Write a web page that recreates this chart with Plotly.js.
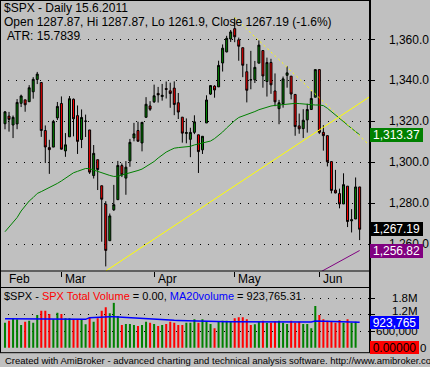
<!DOCTYPE html>
<html><head><meta charset="utf-8">
<script src="https://cdn.plot.ly/plotly-3.0.1.min.js"></script>
<style>html,body{margin:0;padding:0;background:#C0C0C0;}#chart{width:430px;height:367px;}</style>
</head><body><div id="chart"></div>
<script>
const dates = ['2011-02-08','2011-02-09','2011-02-10','2011-02-11','2011-02-14','2011-02-15','2011-02-16','2011-02-17','2011-02-18','2011-02-22','2011-02-23','2011-02-24','2011-02-25','2011-02-28',
'2011-03-01','2011-03-02','2011-03-03','2011-03-04','2011-03-07','2011-03-08','2011-03-09','2011-03-10','2011-03-11','2011-03-14','2011-03-15','2011-03-16','2011-03-17','2011-03-18','2011-03-21','2011-03-22','2011-03-23','2011-03-24','2011-03-25','2011-03-28','2011-03-29','2011-03-30','2011-03-31',
'2011-04-01','2011-04-04','2011-04-05','2011-04-06','2011-04-07','2011-04-08','2011-04-11','2011-04-12','2011-04-13','2011-04-14','2011-04-15','2011-04-18','2011-04-19','2011-04-20','2011-04-21','2011-04-25','2011-04-26','2011-04-27','2011-04-28','2011-04-29',
'2011-05-02','2011-05-03','2011-05-04','2011-05-05','2011-05-06','2011-05-09','2011-05-10','2011-05-11','2011-05-12','2011-05-13','2011-05-16','2011-05-17','2011-05-18','2011-05-19','2011-05-20','2011-05-23','2011-05-24','2011-05-25','2011-05-26','2011-05-27','2011-05-31',
'2011-06-01','2011-06-02','2011-06-03','2011-06-06','2011-06-07','2011-06-08','2011-06-09','2011-06-10','2011-06-13','2011-06-14','2011-06-15'];
const openP = [1318.76,1322.48,1318.13,1318.66,1328.73,1330.43,1329.51,1334.37,1340.38,1338.91,1315.44,1307.09,1307.34,1321.61,
1328.64,1305.47,1312.37,1330.73,1322.72,1311.05,1319.92,1315.72,1293.43,1301.19,1288.46,1279.46,1261.61,1276.71,1281.65,1298.29,1292.19,1300.61,1311.80,1315.45,1309.37,1321.89,1327.44,
1329.48,1333.56,1332.03,1335.94,1334.82,1336.16,1329.01,1321.96,1314.03,1311.13,1314.54,1313.35,1305.99,1319.12,1333.23,1337.14,1336.75,1348.43,1353.86,1360.14,
1365.21,1359.76,1355.90,1344.16,1340.24,1340.20,1348.34,1354.51,1339.39,1348.69,1334.77,1326.10,1328.54,1342.40,1342.00,1333.07,1317.70,1316.36,1320.64,1325.69,1331.72,
1345.20,1314.55,1312.94,1300.26,1286.31,1284.63,1279.56,1288.26,1271.31,1272.22,1287.87];
const highP = [1324.87,1324.54,1322.78,1330.79,1332.96,1330.43,1337.61,1341.50,1344.07,1338.91,1317.91,1310.91,1320.61,1329.38,
1332.09,1314.19,1332.28,1331.08,1327.68,1325.74,1323.21,1315.72,1308.35,1301.19,1288.46,1280.91,1274.90,1288.88,1300.58,1299.35,1300.51,1311.34,1319.18,1319.74,1319.45,1331.74,1329.77,
1337.85,1336.74,1338.21,1339.38,1338.80,1339.46,1333.77,1321.96,1321.35,1316.79,1322.88,1313.35,1312.70,1332.66,1337.49,1337.55,1349.55,1357.49,1361.71,1364.56,
1370.58,1360.84,1355.90,1348.00,1354.36,1349.44,1359.44,1354.51,1351.05,1350.47,1343.33,1330.42,1341.82,1346.82,1342.00,1333.07,1323.72,1325.86,1328.51,1334.62,1345.20,
1345.20,1318.03,1312.94,1300.26,1296.22,1287.04,1294.54,1288.26,1277.04,1292.50,1287.87];
const lowP = [1316.03,1314.89,1311.74,1316.08,1326.90,1324.61,1329.51,1331.00,1338.12,1312.33,1299.55,1294.26,1307.34,1320.55,
1306.14,1302.58,1312.37,1312.59,1303.99,1306.86,1312.27,1294.21,1291.99,1286.37,1261.12,1249.05,1261.61,1276.18,1281.65,1292.70,1284.05,1297.74,1310.15,1310.19,1305.26,1321.89,1325.03,
1328.89,1329.10,1330.03,1331.09,1326.56,1322.94,1321.06,1309.51,1309.19,1302.42,1313.68,1294.70,1303.97,1319.12,1332.82,1331.47,1336.75,1344.25,1353.60,1358.69,
1358.59,1349.52,1341.50,1329.17,1335.58,1338.64,1348.34,1336.36,1332.03,1333.36,1327.32,1318.51,1326.59,1336.36,1330.67,1312.88,1313.87,1311.80,1314.41,1325.69,1331.72,
1313.71,1305.61,1297.90,1284.72,1284.74,1277.42,1279.56,1268.28,1265.64,1272.22,1261.90];
const closeP = [1324.57,1320.88,1321.87,1329.15,1332.32,1328.01,1336.32,1340.43,1343.01,1315.44,1307.40,1306.10,1319.88,1327.22,
1306.33,1308.44,1330.97,1321.15,1310.13,1321.82,1320.02,1295.11,1304.28,1296.39,1281.87,1256.88,1273.72,1279.21,1298.38,1293.77,1297.54,1309.66,1313.80,1310.19,1319.44,1328.26,1325.83,
1332.41,1332.87,1332.63,1335.54,1333.51,1328.17,1324.46,1314.16,1314.41,1314.52,1319.68,1305.14,1312.62,1330.36,1337.38,1335.25,1347.24,1355.66,1360.48,1363.61,
1361.22,1356.62,1347.32,1335.10,1340.20,1346.29,1357.16,1342.08,1348.65,1337.77,1329.47,1328.98,1340.68,1343.60,1333.27,1317.37,1316.28,1320.47,1325.69,1331.10,1345.20,
1314.55,1312.94,1300.16,1286.17,1284.94,1279.56,1289.00,1270.98,1271.83,1287.87,1267.19];
const ma20 = [1266.0,1268.3,1270.5,1272.9,1276.1,1278.6,1281.0,1282.7,1284.7,1285.6,
1286.6,1287.6,1288.3,1289.6,1290.8,1292.0,1293.5,1294.8,1295.5,1296.1,
1296.9,1296.8,1296.1,1295.7,1294.9,1294.0,1293.5,1293.0,1293.1,1293.7,
1294.2,1294.7,1295.2,1295.9,1296.6,1297.9,1298.8,1300.3,1302.0,1303.5,
1304.9,1305.9,1306.8,1307.1,1307.3,1307.5,1307.7,1308.4,1308.9,1309.3,
1309.8,1310.3,1311.5,1313.0,1314.7,1316.7,1318.6,1320.3,1321.8,1322.5,
1323.2,1323.8,1324.7,1325.6,1326.3,1326.9,1327.4,1327.7,1327.9,1328.2,
1328.6,1328.7,1328.7,1328.6,1328.4,1328.0,1327.9,1327.9,1327.9,1327.6,
1326.3,1324.6,1323.0,1321.4,1319.8,1318.1,1316.5,1314.9,1313.37];
const volume = [912000,985000,1070000,1033000,827000,948000,985000,912000,1191000,1349000,1349000,1228000,1033000,1276000,
1228000,1070000,1070000,1033000,1033000,1033000,851000,1106000,948000,1070000,1349000,1471000,1252000,1640000,1155000,827000,863000,863000,827000,791000,827000,948000,912000,
863000,791000,827000,863000,948000,912000,827000,827000,912000,912000,1033000,912000,1033000,973000,863000,706000,948000,985000,985000,948000,
1070000,1106000,1106000,1033000,827000,851000,948000,985000,912000,912000,950000,985000,912000,863000,985000,912000,948000,863000,863000,706000,1519000,
1191000,1033000,985000,948000,912000,1009000,912000,1033000,912000,948000,0];
const volMA20 = [1058000,1058000,1058000,1058000,1058000,1058000,1058000,
1033000,1033000,1033000,1033000,1033000,1033000,1033000,1033000,1033000,1033000,1033000,1033000,1033000,1033000,
1094000,1106000,1106000,1115000,1125000,1130000,1130000,1120000,1106000,1094000,1085000,1075000,1065000,1058000,1050000,1040000,1033000,1033000,1025000,1017000,1009000,1000000,995000,990000,985000,978000,970000,963000,955000,948000,948000,
948000,948000,948000,948000,948000,948000,948000,948000,
936000,936000,936000,936000,936000,936000,936000,936000,936000,936000,936000,936000,936000,936000,936000,936000,936000,
973000,968000,965000,963000,960000,958000,955000,953000,950000,948000,945000,923765];
const priceTicks = [1260,1280,1300,1320,1340,1360];
const volTicks = [0,600000,1200000,1800000];
const volTickLabels = ['0','600,000','1.2M','1.8M'];
const monthNames = ['Jan','Feb','Mar','Apr','May','Jun','Jul','Aug','Sep','Oct','Nov','Dec'];
// trend lines (bar index, price)
const trendUpX = [25, 90.45];
const trendUpY = [1246.8, 1331.9];
const trendDownX = [57, 90.45];
const trendDownY = [1370.58, 1308.2];
const purpleX = [75, 88];
const purpleY = [1242.8, 1256.82];
const lastClose = 1267.19, lastMA = 1313.37, lastPurple = 1256.82, lastVolMA = 923765, lastVol = 0;

const W = 430, H = 367;
const FONT = 'Liberation Sans, Arial, sans-serif';
const px = v => v / W, py = v => 1 - v / H;
const idx = dates.map((d, i) => i);
const plotRight = 369.5, mainBottom = 271, volTop = 287.5, volBottom = 352.7;
const GREEN = '#008000', RED = '#FF0000';

// month starts
const monthIdx = [], monthLab = [];
dates.forEach((d, i) => {
  const m = +d.slice(5, 7);
  if (i === 0 || m !== +dates[i - 1].slice(5, 7)) { monthIdx.push(i); monthLab.push(monthNames[m - 1]); }
});

const traces = [
  {type: 'candlestick', x: idx, open: openP, high: highP, low: lowP, close: closeP, xaxis: 'x', yaxis: 'y',
   increasing: {fillcolor: GREEN, line: {color: '#000', width: 1}},
   decreasing: {fillcolor: RED, line: {color: '#000', width: 1}},
   whiskerwidth: 0, hoverinfo: 'skip', showlegend: false},
  {type: 'scatter', mode: 'lines', x: idx, y: ma20, line: {color: GREEN, width: 1}, xaxis: 'x', yaxis: 'y', hoverinfo: 'skip'},
  {type: 'scatter', mode: 'lines', x: trendUpX, y: trendUpY, line: {color: '#FFFF00', width: 1}, xaxis: 'x', yaxis: 'y', hoverinfo: 'skip'},
  {type: 'scatter', mode: 'lines', x: trendDownX, y: trendDownY, line: {color: '#FFFF00', width: 1, dash: '2px,3px'}, xaxis: 'x', yaxis: 'y', hoverinfo: 'skip'},
  {type: 'scatter', mode: 'lines', x: purpleX, y: purpleY, line: {color: '#800080', width: 1}, xaxis: 'x', yaxis: 'y', hoverinfo: 'skip'},
  {type: 'bar', x: idx, y: volume, width: 0.5, xaxis: 'x2', yaxis: 'y2',
   marker: {color: closeP.map((c, i) => c >= openP[i] ? GREEN : RED), line: {width: 0}}, hoverinfo: 'skip'},
  {type: 'scatter', mode: 'lines', x: idx, y: volMA20, line: {color: '#0000FF', width: 1.5}, xaxis: 'x2', yaxis: 'y2', hoverinfo: 'skip'}
];

const xr = [-5 / 4.03, (plotRight - 5) / 4.03];
const gridStyle = {showgrid: true, gridcolor: '#000', griddash: '1px,7px', gridwidth: 1};

const layout = {
  width: W, height: H, margin: {l: 0, r: 0, t: 0, b: 0},
  paper_bgcolor: '#C0C0C0', plot_bgcolor: '#C0C0C0',
  showlegend: false, hovermode: false, boxgap: 0.3,
  font: {family: FONT, size: 12, color: '#000'},
  xaxis: {domain: [0, px(plotRight)], range: xr, anchor: 'y', rangeslider: {visible: false},
          showgrid: false, zeroline: false, showline: false, ticks: 'outside', ticklen: 5, tickwidth: 1, tickcolor: '#000',
          tickvals: monthIdx.slice(1), showticklabels: false},
  xaxis2: {domain: [0, px(plotRight)], matches: 'x', anchor: 'y2', showgrid: false, zeroline: false, showline: false,
           ticks: '', showticklabels: false},
  yaxis: Object.assign({domain: [py(mainBottom), 1], range: [1246.81, 1379.2], side: 'right', anchor: 'x',
          tickvals: priceTicks, tickformat: ',.1f', ticks: 'outside', ticklen: 4, tickcolor: '#000',
          zeroline: false, showline: false, ticklabelstandoff: 12,
          tickfont: {family: FONT, size: 12, color: '#000'}}, gridStyle),
  yaxis2: Object.assign({domain: [py(volBottom), py(volTop)], range: [-182150, 2193000], side: 'right', anchor: 'x2',
          tickvals: volTicks.slice(1), ticks: 'outside', ticklen: 4, tickcolor: '#000', showticklabels: false,
          zeroline: false, showline: false}, gridStyle),
  shapes: [],
  annotations: []
};

// borders
const L = (x0, y0, x1, y1, w) => ({type: 'line', xref: 'paper', yref: 'paper', x0: px(x0), y0: py(y0), x1: px(x1), y1: py(y1), line: {color: '#000', width: w || 1}, layer: 'above'});
layout.shapes.push(L(0.5, 0, 0.5, volBottom), L(370, 0, 370, volBottom, 2), L(0, 0.5, 370, 0.5),
  L(0, mainBottom, 370, mainBottom), L(0, volTop, 370, volTop), L(0, volBottom, 370, volBottom));

const A = layout.annotations;
const txt = (text, x, yTop, opts) => Object.assign({text: text, xref: 'paper', yref: 'paper', x: px(x), y: py(yTop),
  xanchor: 'left', yanchor: 'top', showarrow: false, borderpad: 0, font: {family: FONT, size: 12, color: '#000'}}, opts || {});
A.push(txt('$SPX - Daily 15.6.2011', 3, 0));
A.push(txt('Open 1287.87, Hi 1287.87, Lo 1261.9, Close 1267.19 (-1.6%)', 3, 14));
A.push(txt('ATR: 15.7839', 6, 28, {bgcolor: '#C0C0C0'}));
A.push(txt('$SPX - <span style="color:#FF0000">SPX Total Volume</span> = 0.00, <span style="color:#0000FF">MA20volume</span> = 923,765.31', 3, 289, {bgcolor: '#C0C0C0', font: {family: FONT, size: 11, color: '#000'}}));
A.push(txt('Created with AmiBroker - advanced charting and technical analysis software. http://www.amibroker.com', 4, 353.5, {font: {family: FONT, size: 9.5, color: '#000'}}));

// month labels
monthIdx.forEach((m, k) => A.push({text: monthLab[k], xref: 'x', yref: 'paper', x: m, y: py(279), xanchor: 'left', yanchor: 'middle',
  xshift: 2.5, showarrow: false, borderpad: 0, font: {family: FONT, size: 12, color: '#000'}}));

// volume axis labels (right-aligned; the "0" sits right of its value box, "1.2M" nudged above the MA box)
const volLabRight = [427, 419, 419, 419];
const volLabShift = [0, 0, 3.5, 0];
volTicks.forEach((v, k) => A.push({text: volTickLabels[k], xref: 'paper', yref: 'y2', x: px(volLabRight[k]), y: v, xanchor: 'right', yanchor: 'middle',
  yshift: volLabShift[k], showarrow: false, borderpad: 0, font: {family: FONT, size: 11.5, color: '#000'}}));

// value boxes
const box = (text, y, yref, bg, fg, w, h) => ({text: text, xref: 'paper', yref: yref, x: px(370), y: y, xanchor: 'left', yanchor: 'middle',
  showarrow: false, bgcolor: bg, borderpad: 0, borderwidth: 0, width: w, height: h, align: 'center', valign: 'middle',
  font: {family: FONT, size: 12, color: fg}});
A.push(box(lastMA.toLocaleString('en-US', {minimumFractionDigits: 2}), lastMA, 'y', GREEN, '#FFFFFF', 53, 14));
A.push(box(lastClose.toLocaleString('en-US', {minimumFractionDigits: 2}), lastClose, 'y', '#000000', '#FFFFFF', 53, 14));
A.push(box(lastPurple.toLocaleString('en-US', {minimumFractionDigits: 2}), lastPurple, 'y', '#800080', '#FFFFFF', 53, 14));
A.push(box(Math.round(lastVolMA).toLocaleString('en-US'), lastVolMA, 'y2', '#0000FF', '#FFFFFF', 49, 13));
A.push(box(lastVol.toFixed(5), lastVol, 'y2', RED, '#000000', 49, 13));

Plotly.newPlot('chart', traces, layout, {staticPlot: true, displayModeBar: false});
</script></body></html>
